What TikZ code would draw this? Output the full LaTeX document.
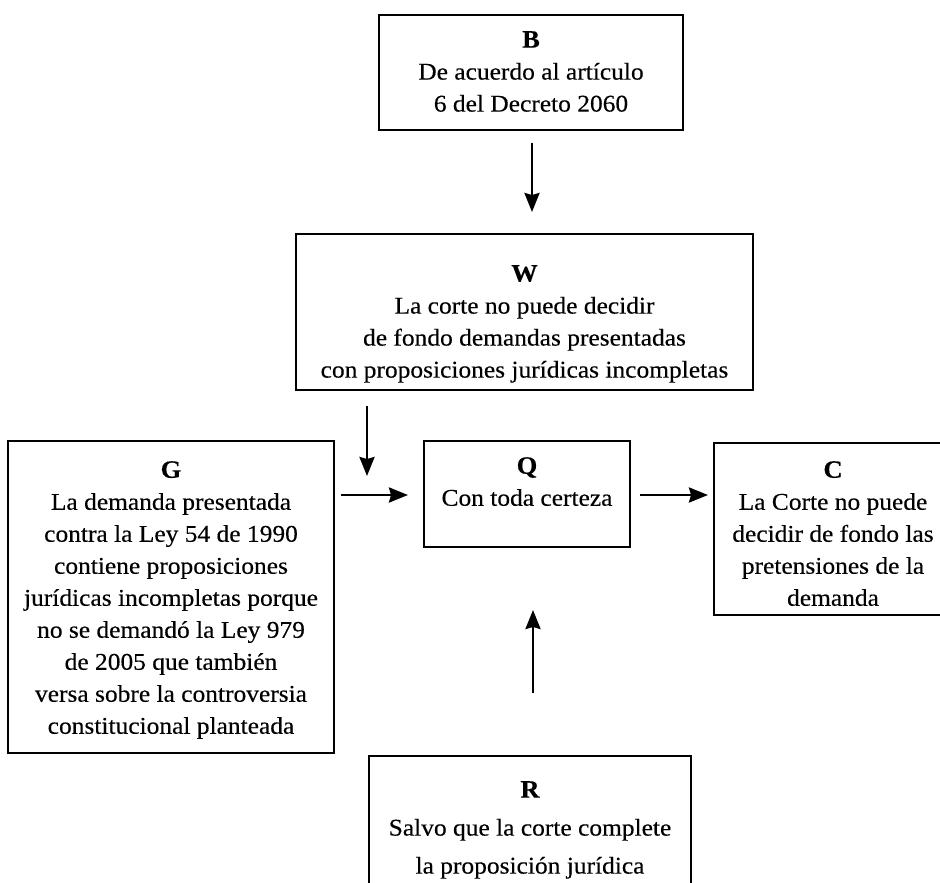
\documentclass[tikz,border=0pt]{standalone}
\usepackage{fontspec}
\setmainfont[FakeStretch=1.06,FakeBold=0.3]{Liberation Serif}
\usetikzlibrary{arrows.meta}
\tikzset{
  boxnode/.style={draw, line width=2.6pt, inner sep=0pt},
  txt/.style={align=center, inner sep=0pt, anchor=north, font=\fontsize{24}{32}\selectfont},
  txtR/.style={align=center, inner sep=0pt, anchor=north, font=\fontsize{24}{38}\selectfont},
  arr/.style={line width=2.6pt, -{Stealth[length=19pt,width=15pt,inset=2pt]}},
}
\newcommand{\ttl}[1]{{\fontsize{25}{32}\selectfont\bfseries #1}}
\begin{document}
\begin{tikzpicture}[x=1pt,y=-1pt]
\useasboundingbox (0,0) rectangle (940,883);
\clip (0,0) rectangle (940,883);
\fill[white] (0,0) rectangle (940,883);
% boxes
\node[boxnode, minimum width=304pt, minimum height=115pt] (B) at (531,72.5) {};
\node[boxnode, minimum width=457pt, minimum height=156pt] (W) at (524.5,312) {};
\node[boxnode, minimum width=326pt, minimum height=312pt] (G) at (171,597) {};
\node[boxnode, minimum width=206pt, minimum height=106pt] (Q) at (527,494) {};
\node[boxnode, minimum width=238pt, minimum height=172pt] (C) at (833,529) {};
\node[boxnode, minimum width=322pt, minimum height=150pt] (R) at (530,831) {};
% texts
\node[txt] (Bt) at (531,31) {\ttl{B}\\De acuerdo al artículo\\6 del Decreto 2060};
\node[txt] (Wt) at (524.5,265) {\ttl{W}\\La corte no puede decidir\\de fondo demandas presentadas\\con proposiciones jurídicas incompletas};
\node[txt] (Gt) at (171,461) {\ttl{G}\\La demanda presentada\\contra la Ley 54 de 1990\\contiene proposiciones\\jurídicas incompletas porque\\no se demandó la Ley 979\\de 2005 que también\\versa sobre la controversia\\constitucional planteada};
\node[txt] (Qt) at (527,457) {\ttl{Q}\\Con toda certeza};
\node[txt] (Ct) at (833,461) {\ttl{C}\\La Corte no puede\\decidir de fondo las\\pretensiones de la\\demanda};
\node[txtR] (Rt) at (530,781) {\ttl{R}\\Salvo que la corte complete\\la proposición jurídica};
% connector ends
\coordinate (b1) at (532,143);
\coordinate (b2) at (532,212);
\coordinate (w1) at (367,406);
\coordinate (w2) at (367,476);
\coordinate (g1) at (341,495);
\coordinate (g2) at (408,495);
\coordinate (q1) at (640,495);
\coordinate (q2) at (708,495);
\coordinate (r1) at (533,693);
\coordinate (r2) at (533,610);
\draw[arr] (b1) -- (b2);
\draw[arr] (w1) -- (w2);
\draw[arr] (g1) -- (g2);
\draw[arr] (q1) -- (q2);
\draw[arr] (r1) -- (r2);
\end{tikzpicture}
\end{document}
